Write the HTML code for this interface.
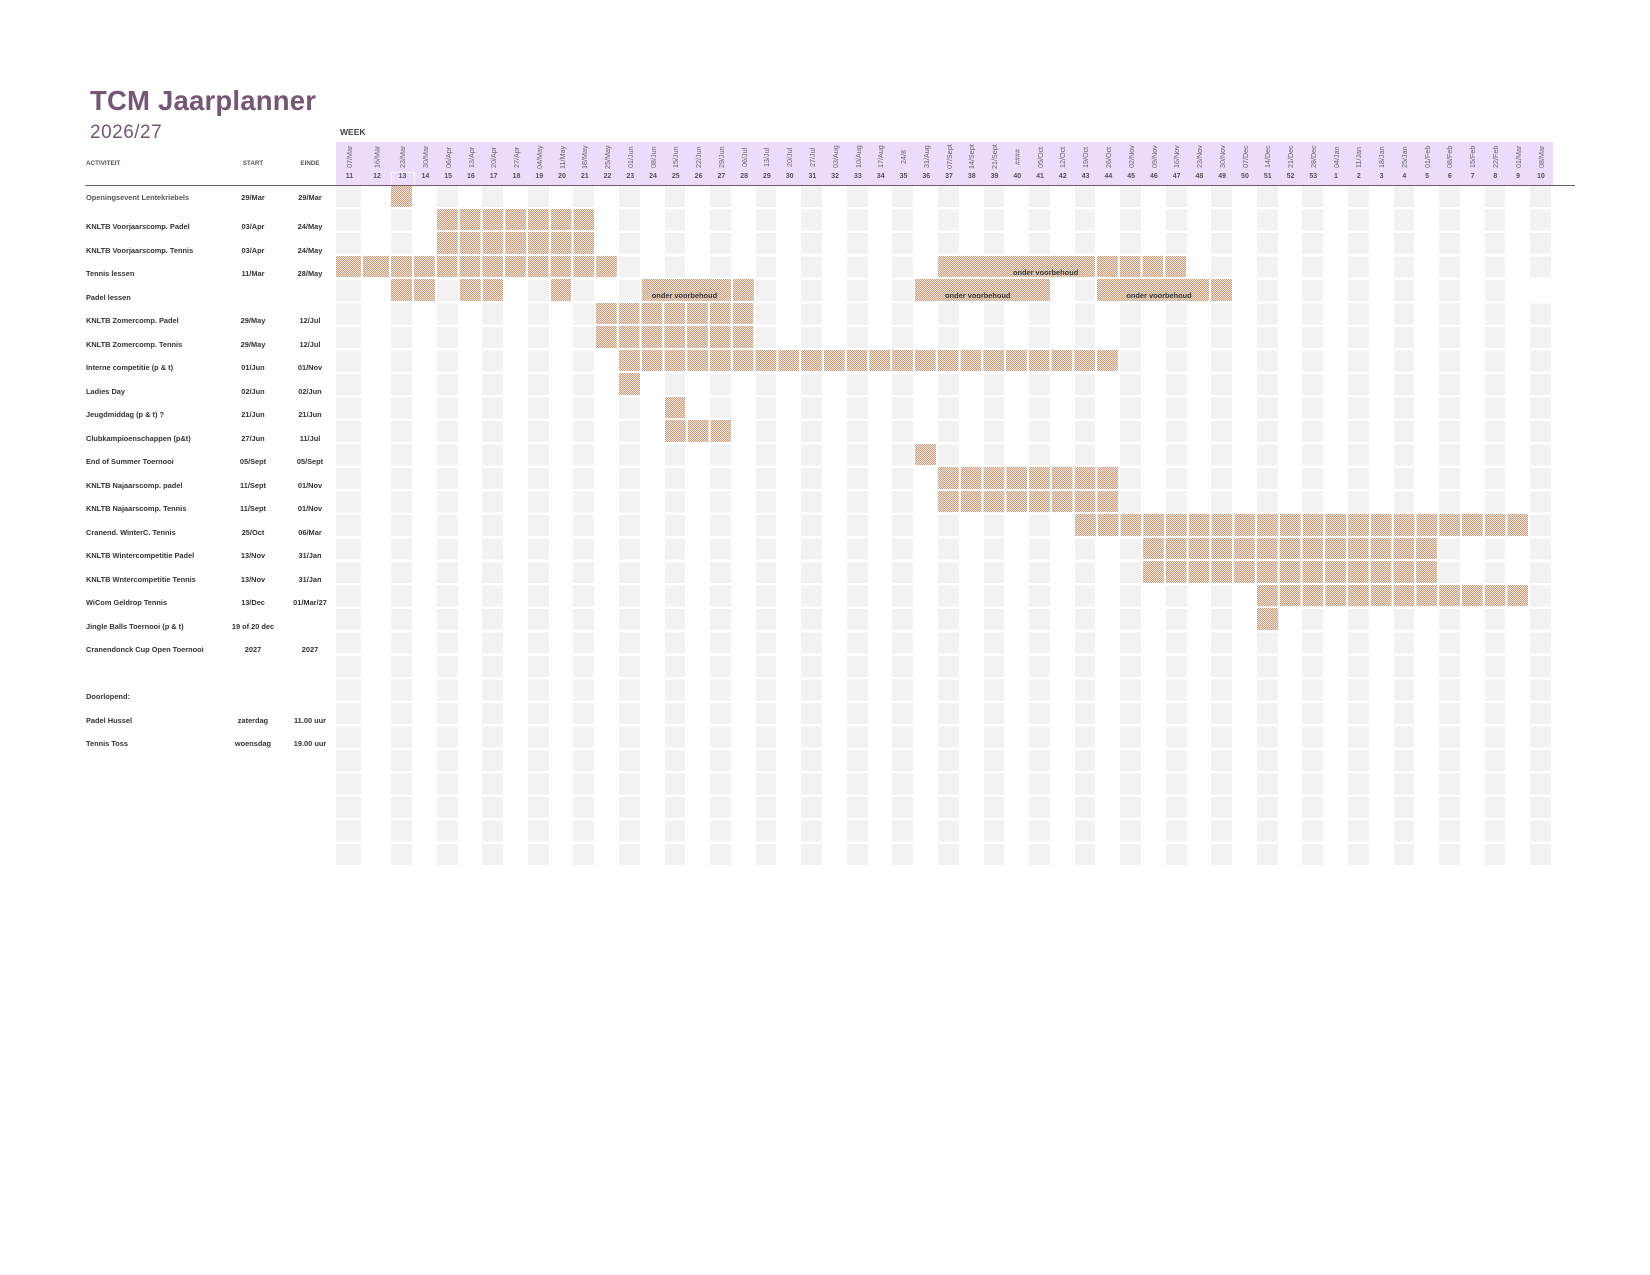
<!DOCTYPE html>
<html><head><meta charset="utf-8"><style>
*{margin:0;padding:0;box-sizing:border-box}
body{width:1650px;height:1275px;background:#fff;position:relative;overflow:hidden;font-family:"Liberation Sans",sans-serif}
.a{position:absolute}
.t{position:absolute;left:90px;top:85px;font-size:27.5px;font-weight:bold;color:#765675;letter-spacing:0.2px}
.y{position:absolute;left:90px;top:122px;font-size:19px;color:#765675;letter-spacing:0.5px}
.g{position:absolute;top:186px;height:680px;width:20.78px;background:repeating-linear-gradient(to bottom,#f2f2f2 0 21px,#fff 21px 23.5px)}
.h{position:absolute;height:21.5px;background-image:repeating-linear-gradient(90deg,transparent 0 20.78px,#fff 20.78px 22.78px),conic-gradient(#c9a184 25%,#efe0d2 0 50%,#c9a184 0 75%,#efe0d2 0);background-size:22.78px 100%,2px 2px}
.m{position:absolute;height:21.5px;background-image:conic-gradient(#c9a184 25%,#efe0d2 0 50%,#c9a184 0 75%,#efe0d2 0);background-size:2px 2px;font-size:7.4px;font-weight:bold;color:#3a3a3a}
.m span{position:absolute;top:12px;white-space:nowrap}
.band{position:absolute;left:336px;top:142px;width:1217px;height:43px;background:#ecdcfb;display:flex}
.band div{position:relative;flex:none;width:22.78px;height:43px}
.band i{position:absolute;left:0;right:0;top:1px;height:28px;font-style:normal;font-size:7.2px;color:#666;writing-mode:vertical-rl;transform:rotate(180deg);display:flex;align-items:center;justify-content:center;white-space:nowrap}
.band b{position:absolute;left:0;right:0;top:31px;text-align:center;font-size:7px;color:#555}
.l{position:absolute;left:86px;height:23.5px;width:160px;font-size:7.4px;font-weight:bold;color:#333;white-space:nowrap}
.s,.e{position:absolute;width:70px;text-align:center;font-size:7.4px;font-weight:bold;color:#333;white-space:nowrap}
.s{left:218px}.e{left:275px}
</style></head><body>
<div class="t">TCM Jaarplanner</div>
<div class="y">2026/27</div>
<div class="a" style="left:340px;top:127px;font-size:8.5px;font-weight:bold;color:#404040">WEEK</div>
<div class="a" style="left:86px;top:160px;font-size:6.3px;font-weight:bold;color:#555">ACTIVITEIT</div>
<div class="a" style="left:218px;width:70px;text-align:center;top:160px;font-size:6.3px;font-weight:bold;color:#555">START</div>
<div class="a" style="left:275px;width:70px;text-align:center;top:160px;font-size:6.3px;font-weight:bold;color:#555">EINDE</div>

<div class="band">
<div style="width:27px"><i>07/Mar</i><b>11</b></div>
<div style="width:28px"><i>16/Mar</i><b>12</b></div>
<div style="width:23px"><i>23/Mar</i><b>13</b></div>
<div><i>30/Mar</i><b>14</b></div><div><i>06/Apr</i><b>15</b></div><div><i>13/Apr</i><b>16</b></div><div><i>20/Apr</i><b>17</b></div><div><i>27/Apr</i><b>18</b></div><div><i>04/May</i><b>19</b></div><div><i>11/May</i><b>20</b></div><div><i>18/May</i><b>21</b></div><div><i>25/May</i><b>22</b></div><div><i>01/Jun</i><b>23</b></div><div><i>08/Jun</i><b>24</b></div><div><i>15/Jun</i><b>25</b></div><div><i>22/Jun</i><b>26</b></div><div><i>29/Jun</i><b>27</b></div><div><i>06/Jul</i><b>28</b></div><div><i>13/Jul</i><b>29</b></div><div><i>20/Jul</i><b>30</b></div><div><i>27/Jul</i><b>31</b></div><div><i>03/Aug</i><b>32</b></div><div><i>10/Aug</i><b>33</b></div><div><i>17/Aug</i><b>34</b></div><div><i>24/8</i><b>35</b></div><div><i>31/Aug</i><b>36</b></div><div><i>07/Sept</i><b>37</b></div><div><i>14/Sept</i><b>38</b></div><div><i>21/Sept</i><b>39</b></div><div><i>####</i><b>40</b></div><div><i>05/Oct</i><b>41</b></div><div><i>12/Oct</i><b>42</b></div><div><i>19/Oct</i><b>43</b></div><div><i>26/Oct</i><b>44</b></div><div><i>02/Nov</i><b>45</b></div><div><i>09/Nov</i><b>46</b></div><div><i>16/Nov</i><b>47</b></div><div><i>23/Nov</i><b>48</b></div><div><i>30/Nov</i><b>49</b></div><div><i>07/Dec</i><b>50</b></div><div><i>14/Dec</i><b>51</b></div><div><i>21/Dec</i><b>52</b></div><div><i>28/Dec</i><b>53</b></div><div><i>04/Jan</i><b>1</b></div><div><i>11/Jan</i><b>2</b></div><div><i>18/Jan</i><b>3</b></div><div><i>25/Jan</i><b>4</b></div><div><i>01/Feb</i><b>5</b></div><div><i>08/Feb</i><b>6</b></div><div><i>15/Feb</i><b>7</b></div><div><i>22/Feb</i><b>8</b></div><div><i>01/Mar</i><b>9</b></div><div><i>08/Mar</i><b>10</b></div>
</div>
<div class="a" style="left:391px;top:172px;width:24px;height:14px;border:1.5px solid #fff;border-bottom:none"></div>

<!-- gray columns -->
<div class="g" style="left:336px;width:25px"></div>
<div class="g" style="left:391px;width:21px"></div>
<div class="g" style="left:436.78px"></div><div class="g" style="left:482.34px"></div><div class="g" style="left:527.9px"></div><div class="g" style="left:573.46px"></div><div class="g" style="left:619.02px"></div><div class="g" style="left:664.58px"></div><div class="g" style="left:710.14px"></div><div class="g" style="left:755.7px"></div><div class="g" style="left:801.26px"></div><div class="g" style="left:846.82px"></div><div class="g" style="left:892.38px"></div><div class="g" style="left:937.94px"></div><div class="g" style="left:983.5px"></div><div class="g" style="left:1029.06px"></div><div class="g" style="left:1074.62px"></div><div class="g" style="left:1120.18px"></div><div class="g" style="left:1165.74px"></div><div class="g" style="left:1211.3px"></div><div class="g" style="left:1256.86px"></div><div class="g" style="left:1302.42px"></div><div class="g" style="left:1347.98px"></div><div class="g" style="left:1393.54px"></div><div class="g" style="left:1439.1px"></div><div class="g" style="left:1484.66px"></div><div class="g" style="left:1530.22px"></div>
<div class="a" style="left:1529px;top:279px;width:24px;height:23.5px;background:#fff"></div>
<div class="a" style="left:85px;top:184.5px;width:1490px;height:1.5px;background:#765675"></div>

<!-- bars -->
<div class="m" style="left:391px;top:186px;width:21px;height:21px"></div>
<div class="h" style="left:436.78px;top:208.5px;width:157.46px"></div>
<div class="h" style="left:436.78px;top:232px;width:157.46px"></div>
<div class="m" style="left:336px;top:255.5px;width:25px"></div>
<div class="m" style="left:363px;top:255.5px;width:26px"></div>
<div class="m" style="left:391px;top:255.5px;width:21px"></div>
<div class="h" style="left:414px;top:255.5px;width:203.02px"></div>
<div class="m" style="left:937.94px;top:255.5px;width:157.46px"><span style="left:75px">onder voorbehoud</span></div>
<div class="h" style="left:1097.4px;top:255.5px;width:89.12px"></div>
<div class="m" style="left:391px;top:279px;width:21px"></div>
<div class="m" style="left:414px;top:279px;width:20.78px"></div>
<div class="h" style="left:459.56px;top:279px;width:43.56px"></div>
<div class="m" style="left:550.68px;top:279px;width:20.78px"></div>
<div class="m" style="left:641.8px;top:279px;width:89.12px"><span style="left:10px">onder voorbehoud</span></div>
<div class="m" style="left:732.92px;top:279px;width:20.78px"></div>
<div class="m" style="left:915.16px;top:279px;width:134.68px"><span style="left:30px">onder voorbehoud</span></div>
<div class="m" style="left:1097.4px;top:279px;width:111.9px"><span style="left:29px">onder voorbehoud</span></div>
<div class="m" style="left:1211.3px;top:279px;width:20.78px"></div>
<div class="h" style="left:596.24px;top:302.5px;width:157.46px"></div>
<div class="h" style="left:596.24px;top:326px;width:157.46px"></div>
<div class="h" style="left:619.02px;top:349.5px;width:499.16px"></div>
<div class="m" style="left:619.02px;top:373px;width:20.78px"></div>
<div class="m" style="left:664.58px;top:396.5px;width:20.78px"></div>
<div class="h" style="left:664.58px;top:420px;width:66.34px"></div>
<div class="m" style="left:915.16px;top:443.5px;width:20.78px"></div>
<div class="h" style="left:937.94px;top:467px;width:180.24px"></div>
<div class="h" style="left:937.94px;top:490.5px;width:180.24px"></div>
<div class="h" style="left:1074.62px;top:514px;width:453.6px"></div>
<div class="h" style="left:1142.96px;top:537.5px;width:294.14px"></div>
<div class="h" style="left:1142.96px;top:561px;width:294.14px"></div>
<div class="h" style="left:1256.86px;top:584.5px;width:271.36px"></div>
<div class="m" style="left:1256.86px;top:608px;width:20.78px"></div>

<!-- labels -->
<div class="l" style="top:193px;color:#555">Openingsevent Lentekriebels</div><div class="s" style="top:193px">29/Mar</div><div class="e" style="top:193px">29/Mar</div>
<div class="l" style="top:222px">KNLTB Voorjaarscomp. Padel</div><div class="s" style="top:222px">03/Apr</div><div class="e" style="top:222px">24/May</div>
<div class="l" style="top:245.5px">KNLTB Voorjaarscomp. Tennis</div><div class="s" style="top:245.5px">03/Apr</div><div class="e" style="top:245.5px">24/May</div>
<div class="l" style="top:269px">Tennis lessen</div><div class="s" style="top:269px">11/Mar</div><div class="e" style="top:269px">28/May</div>
<div class="l" style="top:292.5px">Padel lessen</div>
<div class="l" style="top:316px">KNLTB Zomercomp. Padel</div><div class="s" style="top:316px">29/May</div><div class="e" style="top:316px">12/Jul</div>
<div class="l" style="top:339.5px">KNLTB Zomercomp. Tennis</div><div class="s" style="top:339.5px">29/May</div><div class="e" style="top:339.5px">12/Jul</div>
<div class="l" style="top:363px">Interne competitie (p &amp; t)</div><div class="s" style="top:363px">01/Jun</div><div class="e" style="top:363px">01/Nov</div>
<div class="l" style="top:386.5px">Ladies Day</div><div class="s" style="top:386.5px">02/Jun</div><div class="e" style="top:386.5px">02/Jun</div>
<div class="l" style="top:410px">Jeugdmiddag (p &amp; t) ?</div><div class="s" style="top:410px">21/Jun</div><div class="e" style="top:410px">21/Jun</div>
<div class="l" style="top:433.5px">Clubkampioenschappen (p&amp;t)</div><div class="s" style="top:433.5px">27/Jun</div><div class="e" style="top:433.5px">11/Jul</div>
<div class="l" style="top:457px">End of Summer Toernooi</div><div class="s" style="top:457px">05/Sept</div><div class="e" style="top:457px">05/Sept</div>
<div class="l" style="top:480.5px">KNLTB Najaarscomp. padel</div><div class="s" style="top:480.5px">11/Sept</div><div class="e" style="top:480.5px">01/Nov</div>
<div class="l" style="top:504px">KNLTB Najaarscomp. Tennis</div><div class="s" style="top:504px">11/Sept</div><div class="e" style="top:504px">01/Nov</div>
<div class="l" style="top:527.5px">Cranend. WinterC. Tennis</div><div class="s" style="top:527.5px">25/Oct</div><div class="e" style="top:527.5px">06/Mar</div>
<div class="l" style="top:551px">KNLTB Wintercompetitie Padel</div><div class="s" style="top:551px">13/Nov</div><div class="e" style="top:551px">31/Jan</div>
<div class="l" style="top:574.5px">KNLTB Wntercompetitie Tennis</div><div class="s" style="top:574.5px">13/Nov</div><div class="e" style="top:574.5px">31/Jan</div>
<div class="l" style="top:598px">WiCom Geldrop Tennis</div><div class="s" style="top:598px">13/Dec</div><div class="e" style="top:598px">01/Mar/27</div>
<div class="l" style="top:621.5px">Jingle Balls Toernooi (p &amp; t)</div><div class="s" style="top:621.5px">19 of 20 dec</div>
<div class="l" style="top:645px">Cranendonck Cup Open Toernooi</div><div class="s" style="top:645px">2027</div><div class="e" style="top:645px">2027</div>
<div class="l" style="top:692px">Doorlopend:</div>
<div class="l" style="top:715.5px">Padel Hussel</div><div class="s" style="top:715.5px">zaterdag</div><div class="e" style="top:715.5px">11.00 uur</div>
<div class="l" style="top:739px">Tennis Toss</div><div class="s" style="top:739px">woensdag</div><div class="e" style="top:739px">19.00 uur</div>
</body></html>
